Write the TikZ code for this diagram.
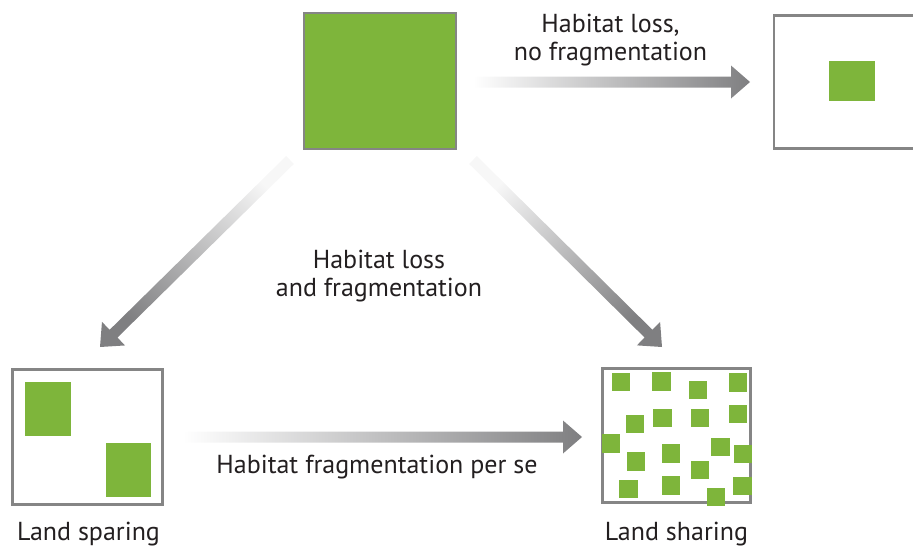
\documentclass[tikz,border=0pt]{standalone}
\usepackage{fontspec}
\setmainfont{PT Sans}
\usetikzlibrary{calc}
\definecolor{grn}{HTML}{7EB53B}
\definecolor{frm}{HTML}{858585}
\definecolor{arr}{HTML}{7F7F81}
\definecolor{txt}{HTML}{231F20}
\newcommand\gradarrow[3]{%
  \coordinate (#1h) at ($(#2)!19pt!(#1)$);
  \shade[#3] ($(#1)!5.5pt!90:(#2)$) -- ($(#1h)!5.5pt!90:(#2)$) -- ($(#1h)!16.5pt!90:(#2)$)
     -- (#2) -- ($(#1h)!16.5pt!-90:(#2)$) -- ($(#1h)!5.5pt!-90:(#2)$) -- ($(#1)!5.5pt!-90:(#2)$) -- cycle;}
\begin{document}
\begin{tikzpicture}[x=1pt,y=-1pt,
  box/.style={draw=frm, line width=2.8pt, fill=white, inner sep=0pt, outer sep=0pt},
  patch/.style={fill=grn, inner sep=0pt, outer sep=0pt},
  sq/.style={patch, minimum width=18.5pt, minimum height=18.5pt},
  lab/.style={text=txt, font=\fontsize{26}{28}\selectfont, align=center, inner sep=0pt}]
\useasboundingbox (0,0) rectangle (913,546);
% top-left habitat
\node[patch, draw=frm, line width=2pt, minimum width=152pt, minimum height=136pt] (full) at (380,81) {};
% top-right box
\begin{scope}
\clip (0,0) rectangle (913,546);
\node[box, minimum width=160pt, minimum height=133.4pt] (lossbox) at (854,82) {};
\end{scope}
\node[patch, minimum width=46pt, minimum height=40pt] (lossp) at (852,81) {};
% land sparing
\node[box, minimum width=150.4pt, minimum height=135.4pt] (spare) at (87.5,437) {};
\node[patch, minimum width=46pt, minimum height=54pt] (sp1) at (48,409) {};
\node[patch, minimum width=45pt, minimum height=54pt] (sp2) at (128.5,470) {};
% land sharing
\node[box, minimum width=148.4pt, minimum height=134.4pt] (share) at (676.5,435.5) {};
\foreach \i/\x/\y in {1/621/382, 2/661.5/381.5, 3/698/390, 4/738/382.5, 5/635/424, 6/662.5/418,
  7/700/418, 8/738/414, 9/611/443.5, 10/671/453.5, 11/720.5/447, 12/743/454, 13/636/461.5,
  14/700/470, 15/628.5/489, 16/671/485.5, 17/716/497, 18/742.5/486}
  \node[sq] (sh\i) at (\x,\y) {};
% arrows
\coordinate (a1s) at (473,82);  \coordinate (a1t) at (750,82);
\coordinate (a2s) at (183,437); \coordinate (a2t) at (582,437);
\coordinate (a3s) at (290,160); \coordinate (a3t) at (100,347);
\coordinate (a4s) at (473,160); \coordinate (a4t) at (662,347);
\gradarrow{a1s}{a1t}{left color=white, right color=arr}
\gradarrow{a2s}{a2t}{left color=white, right color=arr}
\gradarrow{a3s}{a3t}{top color=arr!6, middle color=arr!55, bottom color=arr, shading angle=-45}
\gradarrow{a4s}{a4t}{top color=arr!6, middle color=arr!55, bottom color=arr, shading angle=45}
% labels
\node[lab, anchor=base] (l1) at (610.5,60) {Habitat loss,\\no fragmentation};
\node[lab, anchor=base] (l2) at (379,296) {Habitat loss\\and fragmentation};
\node[lab, anchor=base] (l3) at (377,473) {Habitat fragmentation per se};
\node[lab, anchor=base] (l4) at (88.5,540) {Land sparing};
\node[lab, anchor=base] (l5) at (676.5,540) {Land sharing};
\end{tikzpicture}
\end{document}
